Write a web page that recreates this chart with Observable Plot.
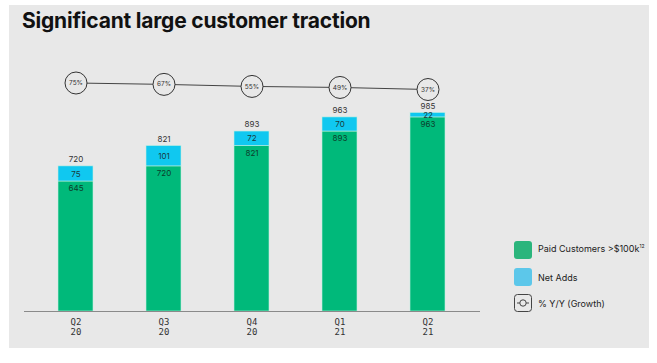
<!DOCTYPE html>
<html><head><meta charset="utf-8">
<script src="https://cdn.jsdelivr.net/npm/d3@7"></script>
<script src="https://cdn.jsdelivr.net/npm/@observablehq/plot@0.6"></script>
<style>
html,body{margin:0;padding:0;background:#fff;}
#wrap{position:relative;width:657px;height:363px;overflow:hidden;font-family:Inter,"Open Sans",sans-serif;}
#panel{position:absolute;left:9px;top:5px;width:640px;height:343px;background:#e8e8e8;}
#title{position:absolute;left:22px;top:8px;font-family:Inter,sans-serif;font-weight:700;font-size:21px;color:#111;letter-spacing:-0.2px;}
#chart{position:absolute;left:0;top:0;}
.leg{position:absolute;left:514px;font-size:9px;color:#222;display:flex;align-items:center;}
.sw{width:18px;height:18px;border-radius:3px;margin-right:6px;flex:none;}
</style></head>
<body><div id="wrap"><div id="panel"></div><div id="title">Significant large customer traction</div><div id="chart"></div>
<div class="leg" style="top:241px;align-items:flex-start"><div class="sw" style="background:#2bb57c"></div><span style="margin-top:2px">Paid Customers &gt;$100k<sup style="font-size:5px">12</sup></span></div>
<div class="leg" style="top:268px"><div class="sw" style="background:#5cc7ea"></div><span>Net Adds</span></div>
<div class="leg" style="top:294px"><svg width="18" height="18" style="margin-right:6px"><rect x="0.5" y="0.5" width="17" height="17" rx="3" fill="none" stroke="#444"/><line x1="3" y1="9" x2="15" y2="9" stroke="#444"/><circle cx="9" cy="9" r="3.2" fill="#e8e8e8" stroke="#444"/></svg><span>% Y/Y (Growth)</span></div>
</div>
<script>
const quarters = ["Q2 20","Q3 20","Q4 20","Q1 21","Q2 21"];
const paid = [645, 720, 821, 893, 963];
const netAdds = [75, 101, 72, 70, 22];
const totals = [720, 821, 893, 963, 985];
const growth = [75, 67, 55, 49, 37];

const rows = quarters.map((q,i)=>({q, paid:paid[i], net:netAdds[i], total:totals[i], growth:growth[i]}));
const stacked = [];
rows.forEach(r=>{
  stacked.push({q:r.q, series:"Paid", y1:0, y2:r.paid});
  stacked.push({q:r.q, series:"Net", y1:r.paid, y2:r.paid + r.net});
});
// growth line drawn in a band above the bars
const gy = d => 1070 + 0.85*d.growth;

const plot = Plot.plot({
  width:657, height:363,
  marginLeft:24, marginRight:177, marginTop:49, marginBottom:52,
  style:{background:"transparent", fontFamily:"Inter, sans-serif"},
  x:{domain:quarters, paddingInner:0.6, paddingOuter:0.38, label:null},
  y:{domain:[0,1300], axis:null},
  marks:[
    Plot.barY(stacked,{x:"q", y1:"y1", y2:"y2", fill:d=>d.series==="Paid"?"#00b97a":"#10c8f0", stroke:"#bfeee0", strokeWidth:0.6}),
    Plot.ruleY([0],{stroke:"#8a8a8a", strokeWidth:1}),
    Plot.axisX({tickSize:0, tickPadding:6, fontSize:9, fontFamily:"DejaVu Sans Mono, monospace", fill:"#333", lineHeight:1.15,
      tickFormat:d=>d.replace(" ","\n"), label:null}),
    Plot.text(rows,{x:"q", y:"total", text:d=>String(d.total), dy:-7, fontSize:8, fill:"#333"}),
    Plot.text(rows,{x:"q", y:d=>d.paid + d.net/2, text:d=>String(d.net), fontSize:8, fill:"#1a3a3a"}),
    Plot.text(rows,{x:"q", y:"paid", text:d=>String(d.paid), dy:7, fontSize:8, fill:"#0c3d2c"}),
    Plot.lineY(rows,{x:"q", y:gy, stroke:"#444", strokeWidth:1}),
    Plot.dot(rows,{x:"q", y:gy, r:11, fill:"#e8e8e8", stroke:"#333", strokeWidth:1}),
    Plot.text(rows,{x:"q", y:gy, text:d=>d.growth+"%", fontSize:6.5, fill:"#333"})
  ]
});
document.getElementById("chart").appendChild(plot);
</script></body></html>
